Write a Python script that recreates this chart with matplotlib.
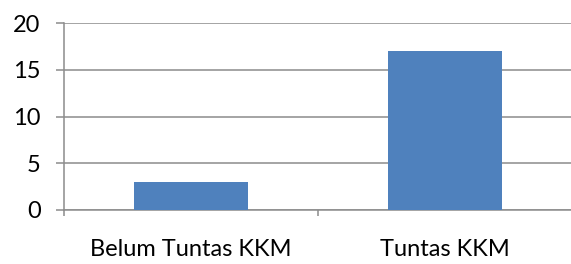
import matplotlib
matplotlib.use("Agg")
import matplotlib.pyplot as plt

categories = ["Belum Tuntas KKM", "Tuntas KKM"]
values = [3, 17]
yticks = [0, 5, 10, 15, 20]

plt.rcParams['font.family'] = ['Lato', 'DejaVu Sans']

W, H = 571, 264
fig = plt.figure(figsize=(W / 100, H / 100), dpi=100)
ax = fig.add_axes([64 / W, 1 - 210 / H, (572 - 64) / W, (210 - 23) / H])

grid_c = '#8c8c8c'
lw = 1.1
x = list(range(len(categories)))
ax.bar(x, values, width=0.45, color='#4f81bd', zorder=3)
ax.set_xlim(-0.5, len(categories) - 0.5)
ax.set_ylim(0, 20)
ax.set_yticks(yticks)
ax.set_yticklabels([str(v) for v in yticks], fontsize=17)
ax.yaxis.grid(True, color=grid_c, linewidth=lw, zorder=0)

ax.set_xticks([i - 0.5 for i in range(len(categories) + 1)])
ax.set_xticklabels([])
ax.set_xticks(x, minor=True)
ax.set_xticklabels(categories, minor=True, fontsize=17)
ax.tick_params(axis='x', which='minor', length=0, pad=21)
ax.tick_params(axis='x', which='major', length=4.3, color=grid_c, width=lw)
ax.tick_params(axis='y', length=5.8, color=grid_c, width=lw, pad=11)

for s in ['top', 'right']:
    ax.spines[s].set_visible(False)
for s in ['left', 'bottom']:
    ax.spines[s].set_color(grid_c)
    ax.spines[s].set_linewidth(lw)

fig.savefig('out.png', dpi=100)
